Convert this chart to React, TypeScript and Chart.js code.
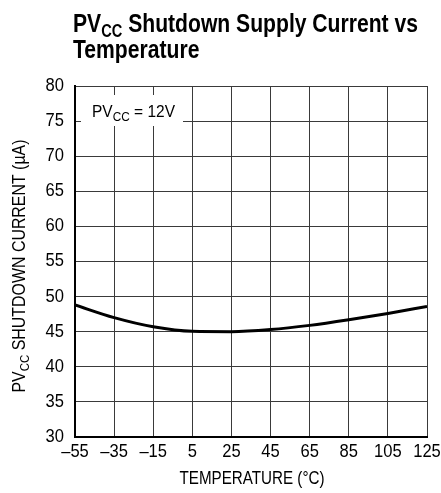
import React, { useEffect, useRef } from "react";
import { Chart, registerables } from "chart.js";

Chart.register(...registerables);

const temperatures = [-55, -35, -15, 5, 25, 45, 65, 85, 105, 125];
const currents = [48.8, 47.0, 45.7, 45.05, 45.0, 45.3, 45.9, 46.7, 47.6, 48.6];
const xTicks = [-55, -35, -15, 5, 25, 45, 65, 85, 105, 125];
const yMin = 30;
const yMax = 80;
const yStep = 5;

const FONT = "'Liberation Sans', Arial, Helvetica, sans-serif";

type Part = { t: string; size: number; dy: number };

function partsWidth(ctx: CanvasRenderingContext2D, parts: Part[], weight: string) {
  let w = 0;
  for (const p of parts) {
    ctx.font = `${weight} ${p.size}px ${FONT}`;
    w += ctx.measureText(p.t).width;
  }
  return w;
}

function drawParts(ctx: CanvasRenderingContext2D, x: number, y: number, parts: Part[], weight: string, sx: number) {
  ctx.save();
  ctx.translate(x, y);
  ctx.scale(sx, 1);
  ctx.textAlign = "left";
  ctx.textBaseline = "alphabetic";
  let cx = 0;
  for (const p of parts) {
    ctx.font = `${weight} ${p.size}px ${FONT}`;
    ctx.fillText(p.t, cx, p.dy);
    cx += ctx.measureText(p.t).width;
  }
  ctx.restore();
}

function drawCondensed(ctx: CanvasRenderingContext2D, text: string, x: number, y: number, align: "left" | "center" | "right", size: number, sx: number) {
  ctx.save();
  ctx.translate(x, y);
  ctx.scale(sx, 1);
  ctx.font = `normal ${size}px ${FONT}`;
  ctx.textAlign = align;
  ctx.textBaseline = "middle";
  ctx.fillText(text, 0, 0);
  ctx.restore();
}

const fmt = (v: number) => (v < 0 ? "\u2013" + Math.abs(v) : String(v));

const textPlugin = {
  id: "texts",
  beforeDatasetsDraw(chart: any) {
    const ctx = chart.ctx as CanvasRenderingContext2D;
    ctx.save();
    ctx.fillStyle = "#fff";
    ctx.fillRect(81, 95, 102, 31);
    ctx.fillStyle = "#000";
    const ann: Part[] = [
      { t: "PV", size: 17, dy: 0 },
      { t: "CC", size: 13, dy: 4 },
      { t: " = 12V", size: 17, dy: 0 },
    ];
    const w = partsWidth(ctx, ann, "normal");
    drawParts(ctx, 92, 117, ann, "normal", 83 / w);
    ctx.restore();
  },
  afterDraw(chart: any) {
    const ctx = chart.ctx as CanvasRenderingContext2D;
    const xs = chart.scales.x;
    const ys = chart.scales.y;
    ctx.save();
    ctx.fillStyle = "#000";

    const t1: Part[] = [
      { t: "PV", size: 26, dy: 0 },
      { t: "CC", size: 18, dy: 5 },
      { t: " Shutdown Supply Current vs", size: 26, dy: 0 },
    ];
    const tw = partsWidth(ctx, t1, "bold");
    const tsx = 345 / tw;
    drawParts(ctx, 73, 32, t1, "bold", tsx);
    drawParts(ctx, 73, 58, [{ t: "Temperature", size: 26, dy: 0 }], "bold", tsx);

    for (const v of xTicks) {
      drawCondensed(ctx, fmt(v), xs.getPixelForValue(v), 452, "center", 18, 0.92);
    }
    for (const tk of ys.ticks) {
      drawCondensed(ctx, fmt(tk.value), 64, ys.getPixelForValue(tk.value), "right", 18, 0.92);
    }

    const xt = "TEMPERATURE (°C)";
    ctx.font = `normal 18px ${FONT}`;
    const xw = ctx.measureText(xt).width;
    drawCondensed(ctx, xt, 252, 479, "center", 18, 145 / xw);

    ctx.save();
    ctx.translate(25, 266);
    ctx.rotate(-Math.PI / 2);
    const yp: Part[] = [
      { t: "PV", size: 18, dy: 0 },
      { t: "CC", size: 13, dy: 4 },
      { t: " SHUTDOWN CURRENT (µA)", size: 18, dy: 0 },
    ];
    const yw = partsWidth(ctx, yp, "normal");
    drawParts(ctx, -253 / 2, 0, yp, "normal", 253 / yw);
    ctx.restore();

    ctx.restore();
  },
};

export default function App() {
  const ref = useRef<HTMLCanvasElement>(null);
  useEffect(() => {
    if (!ref.current) return;
    const chart = new Chart(ref.current, {
      type: "line",
      data: {
        datasets: [
          {
            data: temperatures.map((t, i) => ({ x: t, y: currents[i] })),
            borderColor: "#000",
            borderWidth: 3,
            pointRadius: 0,
            cubicInterpolationMode: "monotone",
            fill: false,
          },
        ],
      },
      options: {
        responsive: false,
        animation: false,
        devicePixelRatio: 1,
        layout: { padding: { top: 86, right: 14, left: 0, bottom: 0 } },
        plugins: { legend: { display: false }, tooltip: { enabled: false }, title: { display: false } },
        scales: {
          x: {
            type: "linear",
            min: -55,
            max: 125,
            afterBuildTicks: (scale: any) => {
              scale.ticks = xTicks.map((v) => ({ value: v }));
            },
            afterFit: (scale: any) => {
              scale.height = 56;
            },
            grid: { color: "#3a3a3a", lineWidth: 1, drawTicks: false },
            border: { color: "#000", width: 2 },
            ticks: { display: false },
          },
          y: {
            type: "linear",
            min: yMin,
            max: yMax,
            afterFit: (scale: any) => {
              scale.width = 75;
            },
            grid: { color: "#3a3a3a", lineWidth: 1, drawTicks: false },
            border: { color: "#000", width: 2 },
            ticks: { stepSize: yStep, display: false },
          },
        },
      },
      plugins: [textPlugin],
    } as any);
    return () => chart.destroy();
  }, []);
  return (
    <div style={{ position: "fixed", left: 0, top: 0, width: 441, height: 493, background: "#fff" }}>
      <canvas ref={ref} width={441} height={493} style={{ width: 441, height: 493 }} />
    </div>
  );
}
